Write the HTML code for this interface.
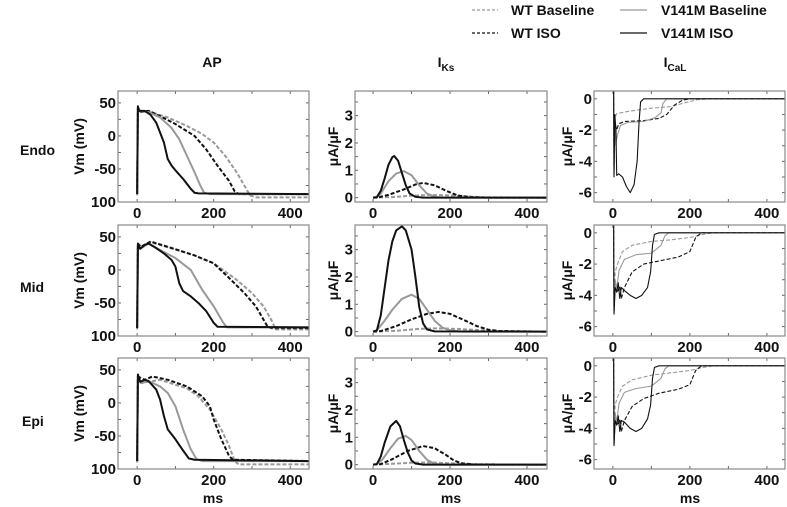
<!DOCTYPE html>
<html><head><meta charset="utf-8">
<style>
html,body{margin:0;padding:0;background:#fff;}
svg{display:block;font-family:"Liberation Sans",Arial,sans-serif;}
.t{font-weight:bold;font-size:15px;fill:#111;}
.lab{font-weight:bold;font-size:14px;fill:#111;}
</style></head>
<body>
<svg id="fig" width="787" height="507" viewBox="0 0 787 507" xmlns="http://www.w3.org/2000/svg">
  <g>
    <line x1="472" y1="10" x2="498" y2="10" stroke="#999" stroke-width="1.3" stroke-dasharray="3,2"/>
    <text class="lab" x="511" y="15">WT Baseline</text>
    <line x1="472" y1="33" x2="498" y2="33" stroke="#111" stroke-width="1.3" stroke-dasharray="3,2"/>
    <text class="lab" x="511" y="38">WT ISO</text>
    <line x1="620" y1="10" x2="647" y2="10" stroke="#999" stroke-width="1.3"/>
    <text class="lab" x="661" y="15">V141M Baseline</text>
    <line x1="620" y1="33" x2="647" y2="33" stroke="#111" stroke-width="1.3"/>
    <text class="lab" x="661" y="38">V141M ISO</text>
  </g>
  <text class="lab" x="212" y="67" text-anchor="middle">AP</text>
  <text class="lab" x="446" y="67" text-anchor="middle">I<tspan font-size="10" dy="4">Ks</tspan></text>
  <text class="lab" x="675" y="67" text-anchor="middle">I<tspan font-size="10" dy="4">CaL</tspan></text>
  <text class="lab" x="20" y="155">Endo</text>
  <text class="lab" x="20" y="292">Mid</text>
  <text class="lab" x="22" y="426">Epi</text>
  <text class="lab" x="213" y="503" text-anchor="middle">ms</text>
  <text class="lab" x="451" y="503" text-anchor="middle">ms</text>
  <text class="lab" x="690" y="503" text-anchor="middle">ms</text>
</svg>
<script>
// ---- data ----
const seriesNames = ["WT Baseline","WT ISO","V141M Baseline","V141M ISO"];
const xTicks = [0,200,400];
const apTicks = [50,0,-50,-100];
const apTickLabels = ["50","0","-50","100"];
const iksTicks = [0,1,2,3];
const iksTickLabels = ["0","1","2","3"];
const icalTicks = [0,-2,-4,-6];
const icalTickLabels = ["0","-2","-4","-6"];

// AP (mV) [time ms, value]
const apEndoWTBase = [[0,-90],[2,40],[10,37],[30,37],[80,28],[130,15],[170,3],[200,-10],[230,-30],[260,-55],[280,-75],[295,-90],[310,-93],[450,-93]];
const apEndoWTIso = [[0,-88],[2,42],[10,36],[30,38],[60,30],[100,18],[150,0],[180,-20],[210,-45],[240,-68],[255,-84],[265,-88],[450,-88]];
const apEndoMBase = [[0,-88],[2,44],[8,37],[30,36],[60,28],[90,12],[110,-5],[130,-30],[150,-55],[165,-75],[175,-86],[190,-88],[450,-88]];
const apEndoMIso = [[0,-88],[2,45],[5,38],[20,38],[35,32],[50,20],[60,5],[70,-10],[80,-35],[90,-45],[100,-52],[120,-65],[140,-80],[150,-86],[160,-87],[450,-88]];
const apMidWTBase = [[0,-90],[2,38],[10,34],[35,42],[100,31],[150,22],[200,10],[260,-15],[300,-35],[330,-55],[350,-75],[362,-90],[450,-90]];
const apMidWTIso = [[0,-88],[2,40],[10,35],[35,43],[80,35],[150,22],[200,10],[240,-12],[280,-35],[310,-55],[330,-75],[340,-85],[350,-88],[450,-88]];
const apMidMBase = [[0,-88],[2,38],[8,32],[30,40],[60,30],[100,18],[140,0],[170,-30],[200,-55],[225,-80],[235,-87],[450,-87]];
const apMidMIso = [[0,-88],[2,38],[8,32],[20,38],[30,40],[50,33],[70,25],[90,15],[100,5],[110,-20],[120,-32],[140,-40],[160,-50],[180,-62],[200,-80],[210,-86],[450,-87]];
const apEpiWTBase = [[0,-90],[2,38],[10,30],[30,32],[60,35],[130,22],[160,10],[190,-10],[220,-40],[240,-65],[255,-88],[265,-93],[450,-93]];
const apEpiWTIso = [[0,-88],[2,40],[20,35],[40,40],[80,35],[130,25],[170,10],[190,-5],[200,-25],[220,-55],[240,-80],[250,-86],[450,-88]];
const apEpiMBase = [[0,-90],[2,40],[10,30],[30,33],[60,25],[80,15],[100,-5],[120,-40],[140,-70],[155,-85],[170,-88],[450,-88]];
const apEpiMIso = [[0,-88],[2,43],[8,32],[20,35],[30,33],[50,20],[60,5],[70,-20],[80,-40],[100,-55],[120,-72],[135,-84],[150,-86],[450,-88]];

// IKs (uA/uF)
const iksEndoWTBase = [[0,0],[50,0.02],[100,0.07],[150,0.1],[200,0.08],[250,0.04],[300,0.01],[450,0]];
const iksEndoWTIso = [[0,0],[10,0],[40,0.1],[80,0.3],[110,0.48],[130,0.54],[160,0.45],[190,0.25],[220,0.08],[250,0.02],[300,0],[450,0]];
const iksEndoMBase = [[0,0],[10,0.02],[20,0.15],[40,0.6],[60,0.88],[80,0.97],[100,0.82],[120,0.45],[140,0.15],[160,0.03],[180,0],[450,0]];
const iksEndoMIso = [[0,0],[10,0.02],[20,0.25],[30,0.7],[40,1.2],[50,1.48],[55,1.52],[65,1.35],[75,0.9],[85,0.45],[95,0.15],[110,0.03],[130,0],[450,0]];
const iksMidWTBase = [[0,0],[60,0.03],[120,0.1],[160,0.12],[220,0.1],[280,0.05],[330,0.02],[450,0]];
const iksMidWTIso = [[0,0],[20,0.02],[60,0.2],[100,0.45],[140,0.65],[170,0.72],[200,0.65],[240,0.4],[270,0.2],[300,0.07],[330,0.02],[450,0]];
const iksMidMBase = [[0,0],[10,0.05],[30,0.4],[50,0.8],[75,1.2],[100,1.35],[120,1.2],[140,0.8],[160,0.4],[180,0.15],[200,0.05],[230,0],[450,0]];
const iksMidMIso = [[0,0],[10,0.05],[20,0.6],[30,1.6],[40,2.6],[50,3.3],[60,3.7],[75,3.85],[85,3.7],[100,3.0],[110,2.0],[120,0.9],[130,0.3],[140,0.08],[160,0.01],[450,0]];
const iksEpiWTBase = [[0,0],[50,0.03],[100,0.07],[150,0.08],[200,0.05],[250,0.02],[300,0],[450,0]];
const iksEpiWTIso = [[0,0],[20,0.02],[50,0.2],[90,0.5],[130,0.68],[160,0.6],[190,0.35],[210,0.15],[230,0.05],[260,0.01],[450,0]];
const iksEpiMBase = [[0,0],[10,0.02],[25,0.2],[45,0.6],[65,0.95],[85,1.05],[100,0.9],[120,0.5],[140,0.18],[160,0.03],[180,0],[450,0]];
const iksEpiMIso = [[0,0],[10,0.02],[20,0.3],[30,0.8],[45,1.4],[60,1.6],[70,1.4],[80,0.9],[90,0.45],[100,0.15],[110,0.04],[130,0],[450,0]];

// ICaL (uA/uF)
const icalEndoWTBase = [[0,0.5],[2,0.3],[3,-3],[5,-1.2],[10,-0.95],[40,-0.8],[100,-0.6],[150,-0.5],[180,-0.3],[220,-0.05],[250,0],[450,0]];
const icalEndoWTIso = [[0,0.5],[2,0.5],[3,-4.5],[6,-1.6],[10,-2.0],[15,-1.6],[30,-1.45],[80,-1.4],[120,-1.25],[140,-1.0],[160,-0.4],[180,-0.1],[200,0],[450,0]];
const icalEndoMBase = [[0,0.5],[2,0.5],[3,-4.8],[5,-2],[8,-2.8],[12,-2.3],[20,-1.7],[40,-1.5],[80,-1.45],[110,-1.2],[125,-0.9],[130,-0.3],[140,0],[450,0]];
const icalEndoMIso = [[0,0.5],[2,0.5],[3,-5],[5,-1],[8,-2],[10,-4.9],[15,-4.8],[25,-5.0],[35,-5.6],[45,-6.0],[55,-5.5],[63,-4],[68,-1.5],[72,-0.2],[80,0],[450,0]];
const icalMidWTBase = [[0,0.5],[2,0.5],[3,-4],[6,-2.5],[12,-2],[25,-1.2],[50,-0.8],[100,-0.55],[150,-0.45],[200,-0.3],[235,-0.1],[260,0],[450,0]];
const icalMidWTIso = [[0,0.5],[2,0.5],[3,-5],[6,-3.2],[12,-3.8],[18,-3.4],[22,-4.2],[30,-3.5],[50,-2.5],[80,-2.0],[120,-1.8],[170,-1.55],[200,-1.2],[215,-0.3],[230,0],[450,0]];
const icalMidMBase = [[0,0.5],[2,0.5],[3,-4.8],[6,-3.0],[10,-3.6],[16,-2.4],[30,-1.7],[60,-1.4],[100,-1.3],[125,-0.8],[135,-0.2],[145,0],[450,0]];
const icalMidMIso = [[0,0.5],[2,0.5],[3,-5.2],[6,-3.5],[10,-3.8],[14,-3.2],[18,-4.2],[22,-3.5],[30,-3.7],[45,-4.0],[60,-4.2],[75,-4.0],[90,-3.5],[98,-2.5],[103,-0.8],[108,-0.1],[120,0],[450,0]];
const icalEpiWTBase = [[0,0.5],[2,0.5],[3,-4],[6,-2.5],[12,-2],[25,-1.3],[50,-0.9],[100,-0.6],[150,-0.45],[200,-0.3],[235,-0.1],[260,0],[450,0]];
const icalEpiWTIso = [[0,0.5],[2,0.5],[3,-5],[6,-3.2],[12,-3.8],[18,-3.4],[22,-4.2],[30,-3.5],[50,-2.6],[80,-2.1],[120,-1.75],[170,-1.5],[200,-1.2],[215,-0.3],[230,0],[450,0]];
const icalEpiMBase = [[0,0.5],[2,0.5],[3,-4.8],[6,-3.0],[10,-3.6],[16,-2.4],[30,-1.7],[60,-1.45],[100,-1.3],[125,-0.8],[135,-0.2],[145,0],[450,0]];
const icalEpiMIso = [[0,0.5],[2,0.5],[3,-5.1],[6,-3.5],[10,-3.8],[14,-3.2],[18,-4.2],[22,-3.5],[30,-3.6],[45,-4.0],[60,-4.2],[75,-4.0],[90,-3.4],[98,-2.5],[103,-0.8],[108,-0.1],[120,0],[450,0]];

const rows = ["endo","mid","epi"];
const apData = [[apEndoWTBase,apEndoWTIso,apEndoMBase,apEndoMIso],[apMidWTBase,apMidWTIso,apMidMBase,apMidMIso],[apEpiWTBase,apEpiWTIso,apEpiMBase,apEpiMIso]];
const iksData = [[iksEndoWTBase,iksEndoWTIso,iksEndoMBase,iksEndoMIso],[iksMidWTBase,iksMidWTIso,iksMidMBase,iksMidMIso],[iksEpiWTBase,iksEpiWTIso,iksEpiMBase,iksEpiMIso]];
const icalData = [[icalEndoWTBase,icalEndoWTIso,icalEndoMBase,icalEndoMIso],[icalMidWTBase,icalMidWTIso,icalMidMBase,icalMidMIso],[icalEpiWTBase,icalEpiWTIso,icalEpiMBase,icalEpiMIso]];

// ---- drawing ----
const NS = "http://www.w3.org/2000/svg";
const svg = document.getElementById("fig");
function mk(tag, attrs, parent){
  const e = document.createElementNS(NS, tag);
  for (const k in attrs) e.setAttribute(k, attrs[k]);
  parent.appendChild(e);
  return e;
}
const styles = [
  {stroke:"#999", dash:"4,2"},
  {stroke:"#111", dash:"4,2"},
  {stroke:"#999", dash:""},
  {stroke:"#111", dash:""}
];
const rowTop = [91, 225, 358];
const rowH = 111;
const cols = [
  {key:"ap", left:118, right:309, xmin:-50, xmax:449, ymin:-100, ymax:68, ticks:apTicks, labels:apTickLabels, minor:25, data:apData, lw:2, ylab:"Vm (mV)", ylx:84},
  {key:"iks", left:355, right:547, xmin:-47, xmax:452, ymin:-0.16, ymax:3.9, ticks:iksTicks, labels:iksTickLabels, minor:0.5, data:iksData, lw:2, ylab:"\u03bcA/\u03bcF", ylx:338},
  {key:"ical", left:594, right:785, xmin:-49, xmax:447, ymin:-6.6, ymax:0.5, ticks:icalTicks, labels:icalTickLabels, minor:1, data:icalData, lw:1.1, ylab:"\u03bcA/\u03bcF", ylx:572}
];
const defs = mk("defs", {}, svg);
cols.forEach(function(c){
  rows.forEach(function(r, ri){
    const top = rowTop[ri], bot = top + rowH;
    const sx = v => c.left + (v - c.xmin) / (c.xmax - c.xmin) * (c.right - c.left);
    const sy = v => bot - (v - c.ymin) / (c.ymax - c.ymin) * (bot - top);
    const g = mk("g", {}, svg);
    
    
    const cid = "clip-" + c.key + "-" + r;
    const cp = mk("clipPath", {id:cid}, defs);
    mk("rect", {x:c.left, y:top, width:c.right-c.left, height:bot-top}, cp);
    for (let t = 0; t <= 400; t += 100) {
      const x = sx(t);
      mk("line", {x1:x, y1:bot, x2:x, y2:bot-3, stroke:"#666", "stroke-width":1}, g);
      mk("line", {x1:x, y1:top, x2:x, y2:top+3, stroke:"#666", "stroke-width":1}, g);
    }
    const lo = Math.ceil(c.ymin / c.minor) * c.minor;
    for (let v = lo; v <= c.ymax + 1e-9; v += c.minor) {
      const y = sy(v);
      mk("line", {x1:c.left, y1:y, x2:c.left+3, y2:y, stroke:"#666", "stroke-width":1}, g);
      mk("line", {x1:c.right, y1:y, x2:c.right-3, y2:y, stroke:"#666", "stroke-width":1}, g);
    }
    xTicks.forEach(function(t){
      const tx = mk("text", {x:sx(t), y:bot+16, "text-anchor":"middle", "class":"t"}, g);
      
      
      tx.textContent = String(t);
    });
    c.ticks.forEach(function(v, i){
      const tx = mk("text", {x:c.left-2, y:sy(v)+5, "text-anchor":"end", "class":"t"}, g);
      
      
      tx.textContent = c.labels[i];
    });
    const yl = mk("text", {x:c.ylx, y:(top+bot)/2, "text-anchor":"middle", "class":"lab", transform:"rotate(-90 " + c.ylx + " " + ((top+bot)/2) + ")"}, g);
    
    
    yl.textContent = c.ylab;
    const lg = mk("g", {"clip-path":"url(#" + cid + ")"}, g);
    c.data[ri].forEach(function(ser, si){
      const d = ser.map((p, i) => (i ? "L" : "M") + sx(p[0]).toFixed(2) + " " + sy(p[1]).toFixed(2)).join(" ");
      const st = styles[si];
      const attrs = {d:d, fill:"none", stroke:st.stroke, "stroke-width":c.lw, "stroke-linejoin":"round"};
      if (st.dash) attrs["stroke-dasharray"] = st.dash;
      const p = mk("path", attrs, lg);
      
      
    });
    const fr = mk("rect", {x:c.left, y:top, width:c.right-c.left, height:bot-top, fill:"none", stroke:"#888", "stroke-width":1.2}, g);
    
    
  });
});
</script>
</body></html>
